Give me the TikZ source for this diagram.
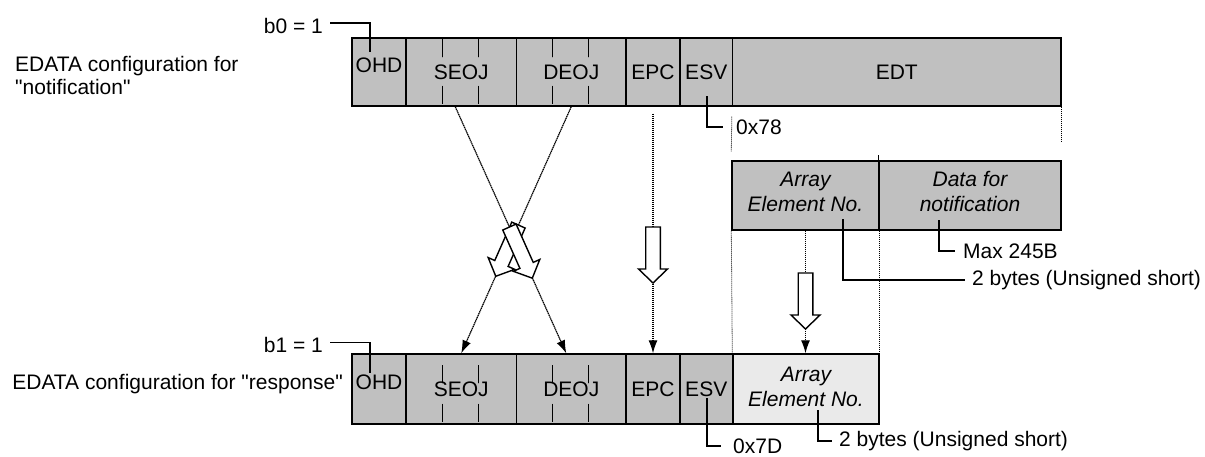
\documentclass[tikz,border=0pt]{standalone}
\usepackage{fontspec}
\setmainfont{Liberation Sans}
\usepackage{tikz}
\usetikzlibrary{arrows.meta,calc}
\definecolor{cellgray}{HTML}{C0C0C0}
\definecolor{lightcell}{HTML}{EAEAEA}
% hollow block arrow, tail at #1, turned by #2
\newcommand{\hollowdown}[2]{\draw[hollow, shift={(#1)}, rotate=#2]
  (-7.3,0) -- (-7.3,42) -- (-14.5,42) -- (0,56) -- (14.5,42) -- (7.3,42) -- (7.3,0) -- cycle;}

\begin{document}
\begin{tikzpicture}[x=1pt, y=-1pt, >={Latex[length=13pt,width=9pt]},
  font=\fontsize{21}{25}\selectfont,
  cell/.style={draw, fill=cellgray, line width=1.4pt, inner sep=0pt, minimum height=68pt, align=center},
  slanted/.style={font=\fontsize{21}{25}\selectfont\itshape},
  tag/.style={inner xsep=7pt, inner ysep=0pt},
  side/.style={inner sep=0pt, align=left, font=\fontsize{21}{23}\selectfont},
  lead/.style={line width=1.4pt},
  link/.style={line width=1.2pt, dash pattern=on 1.4pt off 0.6pt},
  guide/.style={line width=0.8pt, dash pattern=on 1pt off 1pt},
  tick/.style={line width=0.9pt, dash pattern=on 1.4pt off 0.6pt},
  hollow/.style={draw, fill=white, line width=1.4pt}]
\useasboundingbox (0,0) rectangle (1205,456);

% notification frame
\node[side, anchor=west] (notiLab) at (15,75) {EDATA configuration for\\\textquotedbl notification\textquotedbl};
\node[cell, minimum width=54pt, text depth=14pt] (ohdN) at (379,72) {OHD};
\node[cell, minimum width=110.5pt] (seojN) at (461.25,72) {SEOJ};
\node[cell, minimum width=109.5pt] (deojN) at (571.25,72) {DEOJ};
\node[cell, minimum width=54pt]    (epcN)  at (653,72)    {EPC};
\node[cell, minimum width=52.5pt]  (esvN)  at (706.25,72) {ESV};
\node[cell, minimum width=328.5pt] (edtN)  at (896.75,72) {EDT};

% EDT contents
\node[cell, slanted, minimum width=147pt, minimum height=69pt, text depth=8pt] (arrN) at (805.5,195.5) {Array\\Element No.};
\node[cell, slanted, minimum width=182pt, minimum height=69pt, text depth=8pt] (datN) at (970,195.5) {Data for\\notification};

% response frame
\node[side, anchor=east] (respLab) at (343,384.5) {EDATA configuration for \textquotedbl response\textquotedbl};
\node[cell, minimum width=54pt, minimum height=70pt, text depth=14pt] (ohdB) at (379,389) {OHD};
\node[cell, minimum width=110.5pt, minimum height=70pt] (seojB) at (461.25,389) {SEOJ};
\node[cell, minimum width=109.5pt, minimum height=70pt] (deojB) at (571.25,389) {DEOJ};
\node[cell, minimum width=54pt, minimum height=70pt]    (epcB)  at (653,389)    {EPC};
\node[cell, minimum width=52.5pt, minimum height=70pt]  (esvB)  at (706.25,389) {ESV};
\node[cell, slanted, fill=lightcell, minimum width=146pt, minimum height=70pt, text depth=4pt] (arrB) at (806,389) {Array\\Element No.};

% dotted marks inside SEOJ / DEOJ
\foreach \c/\off in {seojN/2, deojN/2, seojB/12, deojB/12}
  \foreach \dx in {-19,17}{
    \draw[tick] ([xshift=\dx pt, yshift=-\off pt]\c.north) -- ++(0,18);
    \draw[tick] ([xshift=\dx pt, yshift=3pt]\c.south) -- ++(0,-18);
  }

% tags
\node[tag, anchor=east] (b0Lab) at (330,25.5) {b0 = 1};
\node[tag, anchor=east] (b1Lab) at (330,345) {b1 = 1};
\node[tag, anchor=west, inner xsep=13pt] (hex78) at (723,127) {0x78};
\node[tag, anchor=west, inner xsep=12pt] (hex7D) at (721,446) {0x7D};
\node[tag, anchor=west, inner xsep=8pt] (maxLab) at (955,251) {Max 245B};
\node[tag, anchor=west] (twoA) at (965,280) {2 bytes (Unsigned short)};
\node[tag, anchor=west] (twoB) at (832,441) {2 bytes (Unsigned short)};

\coordinate (b0End) at (370,52);
\coordinate (b1End) at (370,373);
\coordinate (esvTop) at (707,96);
\coordinate (esvBot) at (707,398);
\coordinate (datTop) at (939,220);
\coordinate (arrTop) at (843,219);
\coordinate (arrBot) at (818,410);

\draw[lead] ([yshift=2.5pt]b0Lab.east) -| (b0End);
\draw[lead] ([yshift=2.5pt]b1Lab.east) -| (b1End);
\draw[lead] (esvTop) |- (hex78.west);
\draw[lead] (esvBot) |- (hex7D.west);
\draw[lead] (datTop) |- (maxLab.west);
\draw[lead] (arrTop) |- (twoA.west);
\draw[lead] (arrBot) |- (twoB.west);
\draw[lead] (datN.north west) -- ++(0,-5);

% EDT expansion guides
\draw[guide] ([yshift=-10pt]edtN.south west) -- ([yshift=9pt]arrN.north west);
\draw[guide] (edtN.south east) -- ([yshift=18pt]datN.north east);
\draw[guide] (arrN.south west) -- (arrB.north west);
\draw[guide] (arrN.south east) -- (arrB.north east);

% mapping notification -> response
\draw[link,->] ([xshift=-6pt]seojN.south) -- ([xshift=-5pt]deojB.north);
\draw[link,->] (deojN.south) -- (seojB.north);
\draw[link,->] ([yshift=-7pt]epcN.south) -- (epcB.north);
\draw[link,->] (arrN.south) -- (arrN.south |- arrB.north);

\coordinate (crossA) at ($([xshift=-6pt]seojN.south)!0.488!([xshift=-5pt]deojB.north)$);
\coordinate (crossB) at ($(deojN.south)!0.480!(seojB.north)$);
\coordinate (epcTail) at (653,227);
\coordinate (arrTail) at (805.5,273);
\hollowdown{crossB}{-23.9}
\hollowdown{crossA}{24.1}
\hollowdown{epcTail}{0}
\hollowdown{arrTail}{0}
\end{tikzpicture}
\end{document}
